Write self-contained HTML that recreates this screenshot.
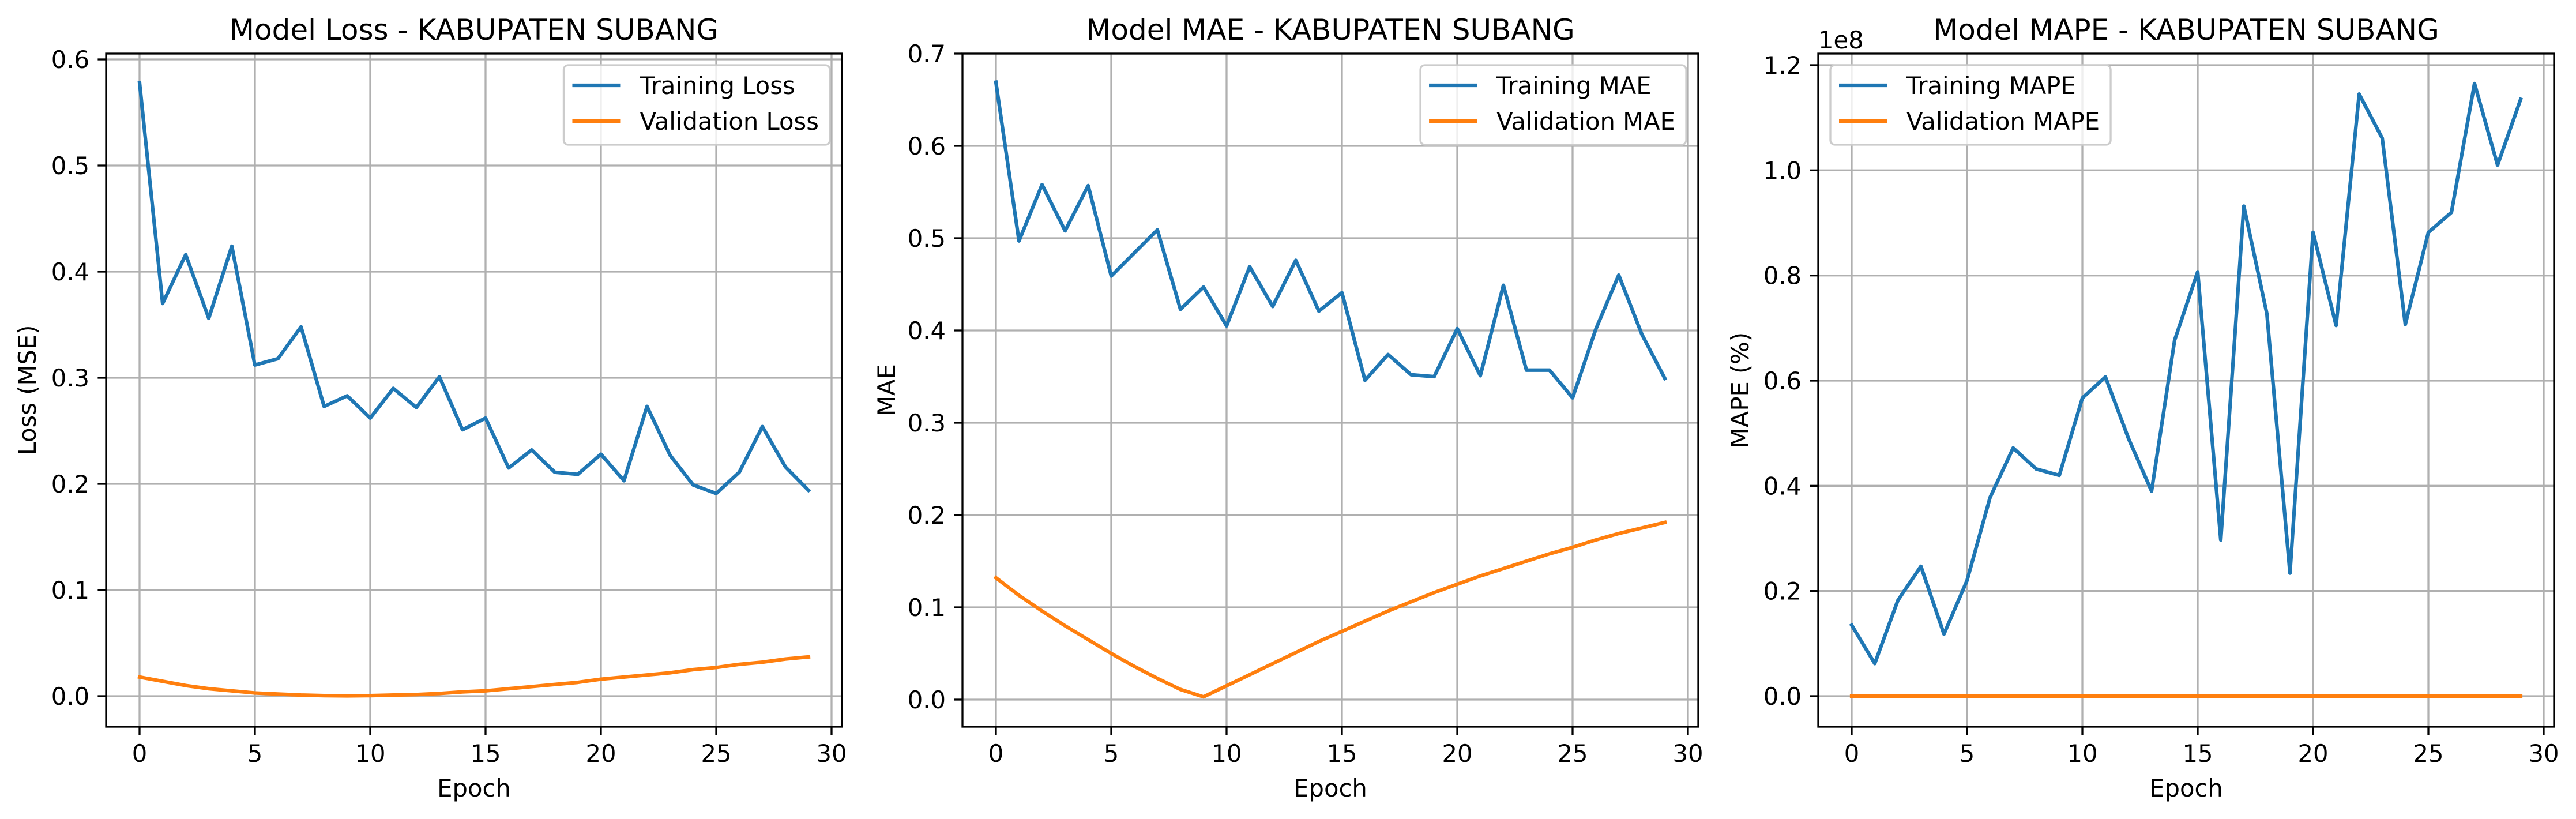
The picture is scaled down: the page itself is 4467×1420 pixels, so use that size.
<!DOCTYPE html>
<html><head><meta charset="utf-8"><style>
html,body{margin:0;padding:0;background:#fff}
svg{display:block}
text{font-family:"DejaVu Sans","Liberation Sans",sans-serif;fill:#000}
</style></head><body>
<svg id="fig" width="4467" height="1420" viewBox="0 0 4467 1420" xmlns="http://www.w3.org/2000/svg"></svg>
<script>
const epochs = [0,1,2,3,4,5,6,7,8,9,10,11,12,13,14,15,16,17,18,19,20,21,22,23,24,25,26,27,28,29];
const trainLoss = [0.578,0.370,0.416,0.356,0.424,0.312,0.318,0.348,0.273,0.283,0.262,0.290,0.272,0.301,0.251,0.262,0.215,0.232,0.211,0.209,0.228,0.203,0.273,0.227,0.199,0.191,0.211,0.254,0.216,0.194];
const valLoss = [0.018,0.014,0.010,0.007,0.005,0.003,0.002,0.001,0.0005,0.0003,0.0005,0.001,0.0015,0.0025,0.004,0.005,0.007,0.009,0.011,0.013,0.016,0.018,0.020,0.022,0.025,0.027,0.030,0.032,0.035,0.037];
const trainMAE = [0.669,0.497,0.558,0.508,0.557,0.459,0.484,0.509,0.423,0.447,0.405,0.469,0.426,0.476,0.421,0.441,0.346,0.374,0.352,0.350,0.402,0.351,0.449,0.357,0.357,0.327,0.401,0.460,0.396,0.348];
const valMAE = [0.132,0.113,0.096,0.080,0.065,0.050,0.036,0.023,0.011,0.003,0.015,0.027,0.039,0.051,0.063,0.074,0.085,0.096,0.106,0.116,0.125,0.134,0.142,0.150,0.158,0.165,0.173,0.180,0.186,0.192];
const trainMAPE = [0.135,0.062,0.182,0.247,0.118,0.220,0.378,0.472,0.432,0.420,0.567,0.607,0.490,0.390,0.677,0.807,0.297,0.932,0.727,0.234,0.882,0.705,1.145,1.061,0.707,0.882,0.920,1.165,1.010,1.135];
const valMAPE = [0,0,0,0,0,0,0,0,0,0,0,0,0,0,0,0,0,0,0,0,0,0,0,0,0,0,0,0,0,0];
const xTicks = [0,5,10,15,20,25,30];
const lossTicks = [0.0,0.1,0.2,0.3,0.4,0.5,0.6];
const maeTicks = [0.0,0.1,0.2,0.3,0.4,0.5,0.6,0.7];
const mapeTicks = [0.0,0.2,0.4,0.6,0.8,1.0,1.2];

const NS='http://www.w3.org/2000/svg';
const svg=document.getElementById('fig');
function mk(tag,attrs,parent){const e=document.createElementNS(NS,tag);for(const k in attrs)e.setAttribute(k,attrs[k]);(parent||svg).appendChild(e);return e;}

function panel(o){
  const g=mk('g',{});
  
  
  const L=o.left,W=1276,T=93,B=1260;
  const xmin=-1.45,xmax=30.45;
  const X=v=>L+(v-xmin)/(xmax-xmin)*W;
  const Y=v=>o.y0+(v-0)*(o.y1-o.y0)/o.v1;
  // grid
  xTicks.forEach(t=>{const l=mk('line',{x1:X(t),x2:X(t),y1:T,y2:B,stroke:'#b0b0b0','stroke-width':3.3},g);
    });
  o.yTicks.forEach(t=>{const l=mk('line',{x1:L,x2:L+W,y1:Y(t),y2:Y(t),stroke:'#b0b0b0','stroke-width':3.3},g);
    });
  // series
  const clip=mk('clipPath',{id:'clip-'+o.key},g);mk('rect',{x:L,y:T,width:W,height:B-T},clip);
  o.series.forEach(s=>{
    const p=mk('polyline',{points:epochs.map((e,i)=>X(e)+','+Y(s.data[i])).join(' '),fill:'none',stroke:s.color,'stroke-width':6.25,'stroke-linecap':'square','stroke-linejoin':'round','clip-path':'url(#clip-'+o.key+')'},g);
    
    
  });
  // spines
  const fr=mk('rect',{x:L,y:T,width:W,height:B-T,fill:'none',stroke:'#000','stroke-width':3.3},g);
  
  // ticks
  xTicks.forEach(t=>{mk('line',{x1:X(t),x2:X(t),y1:B,y2:B+14.6,stroke:'#000','stroke-width':3.3},g);
    const tx=mk('text',{x:X(t),y:1321,'font-size':41.7,'text-anchor':'middle'},g);tx.textContent=String(t);
    });
  o.yTicks.forEach(t=>{mk('line',{x1:L-14.6,x2:L,y1:Y(t),y2:Y(t),stroke:'#000','stroke-width':3.3},g);
    const tx=mk('text',{x:L-29,y:Y(t)+15,'font-size':41.7,'text-anchor':'end'},g);tx.textContent=t.toFixed(1);
    });
  // title, labels
  const ti=mk('text',{x:L+W/2,y:69,'font-size':50,'text-anchor':'middle'},g);ti.textContent=o.title;
  
  const xl=mk('text',{x:L+W/2,y:1381,'font-size':41.7,'text-anchor':'middle'},g);xl.textContent='Epoch';
  
  const yl=mk('text',{x:0,y:0,'font-size':41.7,'text-anchor':'middle',transform:'translate('+(o.ylx)+','+((T+B)/2)+') rotate(-90)'},g);yl.textContent=o.ylabel;
  
  if(o.offset){const of=mk('text',{x:L,y:84,'font-size':41.7},g);of.textContent=o.offset;
    }
  // legend
  const lg=mk('g',{},g);
  
  const box=mk('rect',{x:0,y:113,width:10,height:138,rx:8,fill:'#fff','fill-opacity':0.8,stroke:'#cccccc','stroke-width':3.3},lg);
  const texts=[];
  o.series.forEach((s,i)=>{
    const ln=mk('line',{x1:0,x2:0,y1:148+i*62,y2:148+i*62,stroke:s.color,'stroke-width':6.25},lg);
    const t=mk('text',{x:0,y:163+i*62,'font-size':41.7},lg);t.textContent=s.label;
    
    texts.push([ln,t]);
  });
  let tw=0;texts.forEach(([l,t])=>{tw=Math.max(tw,t.getComputedTextLength());});
  const bw=132+tw+19;
  const bx=o.legendLeft?L+21:L+W-21-bw;
  box.setAttribute('x',bx);box.setAttribute('width',bw);
  texts.forEach(([l,t])=>{l.setAttribute('x1',bx+15);l.setAttribute('x2',bx+98);t.setAttribute('x',bx+132);});
}

panel({key:'loss',left:184,y0:1207,y1:103,v1:0.6,yTicks:lossTicks,title:'Model Loss - KABUPATEN SUBANG',ylabel:'Loss (MSE)',ylx:62,
  series:[{name:'training-loss-line',label:'Training Loss',color:'#1f77b4',data:trainLoss},{name:'validation-loss-line',label:'Validation Loss',color:'#ff7f0e',data:valLoss}]});
panel({key:'mae',left:1669,y0:1213,y1:93,v1:0.7,yTicks:maeTicks,title:'Model MAE - KABUPATEN SUBANG',ylabel:'MAE',ylx:1552,
  series:[{name:'training-mae-line',label:'Training MAE',color:'#1f77b4',data:trainMAE},{name:'validation-mae-line',label:'Validation MAE',color:'#ff7f0e',data:valMAE}]});
panel({key:'mape',left:3153,y0:1207,y1:113,v1:1.2,yTicks:mapeTicks,title:'Model MAPE - KABUPATEN SUBANG',ylabel:'MAPE (%)',ylx:3032,offset:'1e8',legendLeft:true,
  series:[{name:'training-mape-line',label:'Training MAPE',color:'#1f77b4',data:trainMAPE},{name:'validation-mape-line',label:'Validation MAPE',color:'#ff7f0e',data:valMAPE}]});
</script>
</body></html>
